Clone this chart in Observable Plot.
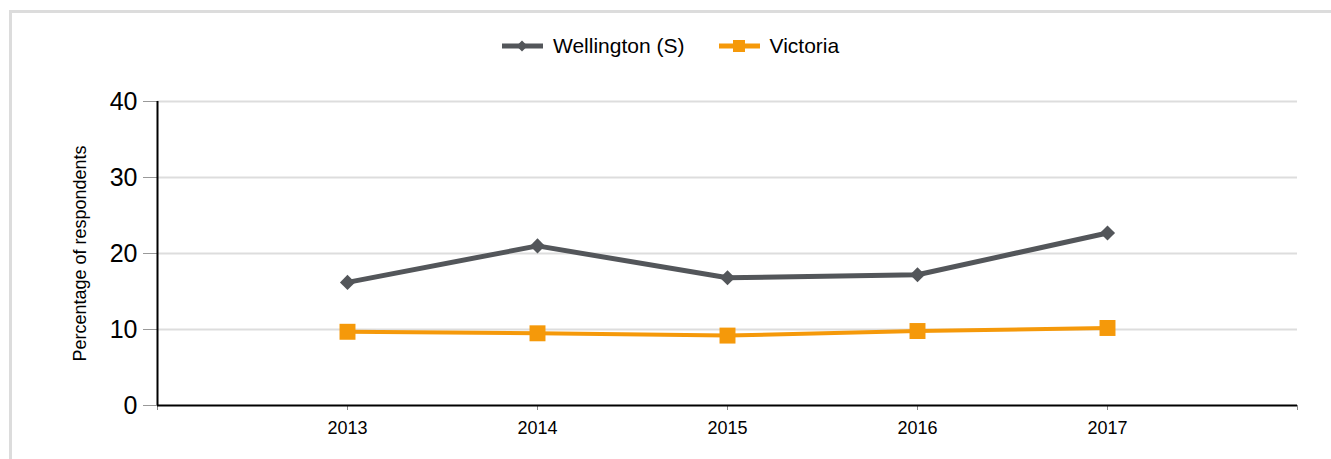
<!DOCTYPE html>
<html>
<head>
<meta charset="utf-8">
<script src="https://cdn.jsdelivr.net/npm/d3@7"></script>
<script src="https://cdn.jsdelivr.net/npm/@observablehq/plot@0.6"></script>
<style>
  html, body { margin: 0; padding: 0; background: #fff; overflow: hidden; }
  body { position: relative; width: 1331px; height: 459px; font-family: "Liberation Sans", Arial, sans-serif; }
  #frame { position: absolute; left: 9px; top: 10px; width: 1340px; height: 470px; border-left: 3px solid #dcdcdc; border-top: 3px solid #dcdcdc; box-sizing: border-box; }
  #legend { position: absolute; left: 502px; top: 33px; height: 26px; display: flex; align-items: center; font-size: 21px; color: #000; }
  .item { display: flex; align-items: center; margin-right: 34px; }
  .item svg { margin-right: 10px; }
  #chart { position: absolute; left: 0; top: 80px; }
</style>
</head>
<body>
<div id="frame"></div>
<div id="legend"></div>
<div id="chart"></div>
<script>
const years = [2013, 2014, 2015, 2016, 2017];
const seriesNames = ["Wellington (S)", "Victoria"];
const wellington = [16.2, 21.0, 16.8, 17.2, 22.7];
const victoria = [9.7, 9.5, 9.2, 9.8, 10.2];
const yTicks = [0, 10, 20, 30, 40];
const xTicks = [2012, 2013, 2014, 2015, 2016, 2017, 2018];
const yLabel = "Percentage of respondents";
const colors = ["#53565a", "#f5990a"];

const wData = years.map((y, i) => ({year: y, value: wellington[i]}));
const vData = years.map((y, i) => ({year: y, value: victoria[i]}));

// legend
const legend = document.getElementById("legend");
seriesNames.forEach((name, i) => {
  const item = document.createElement("div");
  item.className = "item";
  const marker = i === 0
    ? `<path d="M20 4.5 L25.5 10 L20 15.5 L14.5 10 Z" fill="${colors[i]}"/>`
    : `<rect x="14" y="4" width="12" height="12" fill="${colors[i]}"/>`;
  item.innerHTML = `<svg width="41" height="20"><line x1="0" y1="10" x2="41" y2="10" stroke="${colors[i]}" stroke-width="5"/>${marker}</svg><span>${name}</span>`;
  legend.appendChild(item);
});

const chart = Plot.plot({
  width: 1331,
  height: 379,
  marginTop: 21,
  marginBottom: 54,
  marginLeft: 157,
  marginRight: 34,
  style: {background: "transparent", fontFamily: "'Liberation Sans', Arial, sans-serif", color: "#000"},
  x: {type: "linear", domain: [2012, 2018]},
  y: {domain: [0, 40]},
  marks: [
    Plot.gridY([10, 20, 30, 40], {stroke: "#dddddd", strokeOpacity: 1, strokeWidth: 2}),
    Plot.line(vData, {x: "year", y: "value", stroke: colors[1], strokeWidth: 4}),
    Plot.dot(vData, {x: "year", y: "value", symbol: "square", r: 9, fill: colors[1]}),
    Plot.line(wData, {x: "year", y: "value", stroke: colors[0], strokeWidth: 5}),
    Plot.dot(wData, {x: "year", y: "value", symbol: "diamond2", r: 6.8, fill: colors[0]}),
    Plot.axisY({ticks: yTicks, tickSize: 14, tickPadding: 6, fontSize: 25, stroke: "#999", fill: "#000", label: null}),
    Plot.axisX({ticks: xTicks, tickFormat: d => (d === 2012 || d === 2018) ? "" : String(d), tickSize: 5, tickPadding: 11, fontSize: 18, stroke: "#888", fill: "#000", label: null}),
    Plot.ruleX([2012], {stroke: "#000", strokeWidth: 2}),
    Plot.ruleY([0], {stroke: "#000", strokeWidth: 2}),
    Plot.text([yLabel], {frameAnchor: "left", dx: -77, rotate: -90, fontSize: 18, fill: "#000", textAnchor: "middle", lineAnchor: "middle"})
  ]
});
document.getElementById("chart").appendChild(chart);
</script>
</body>
</html>
